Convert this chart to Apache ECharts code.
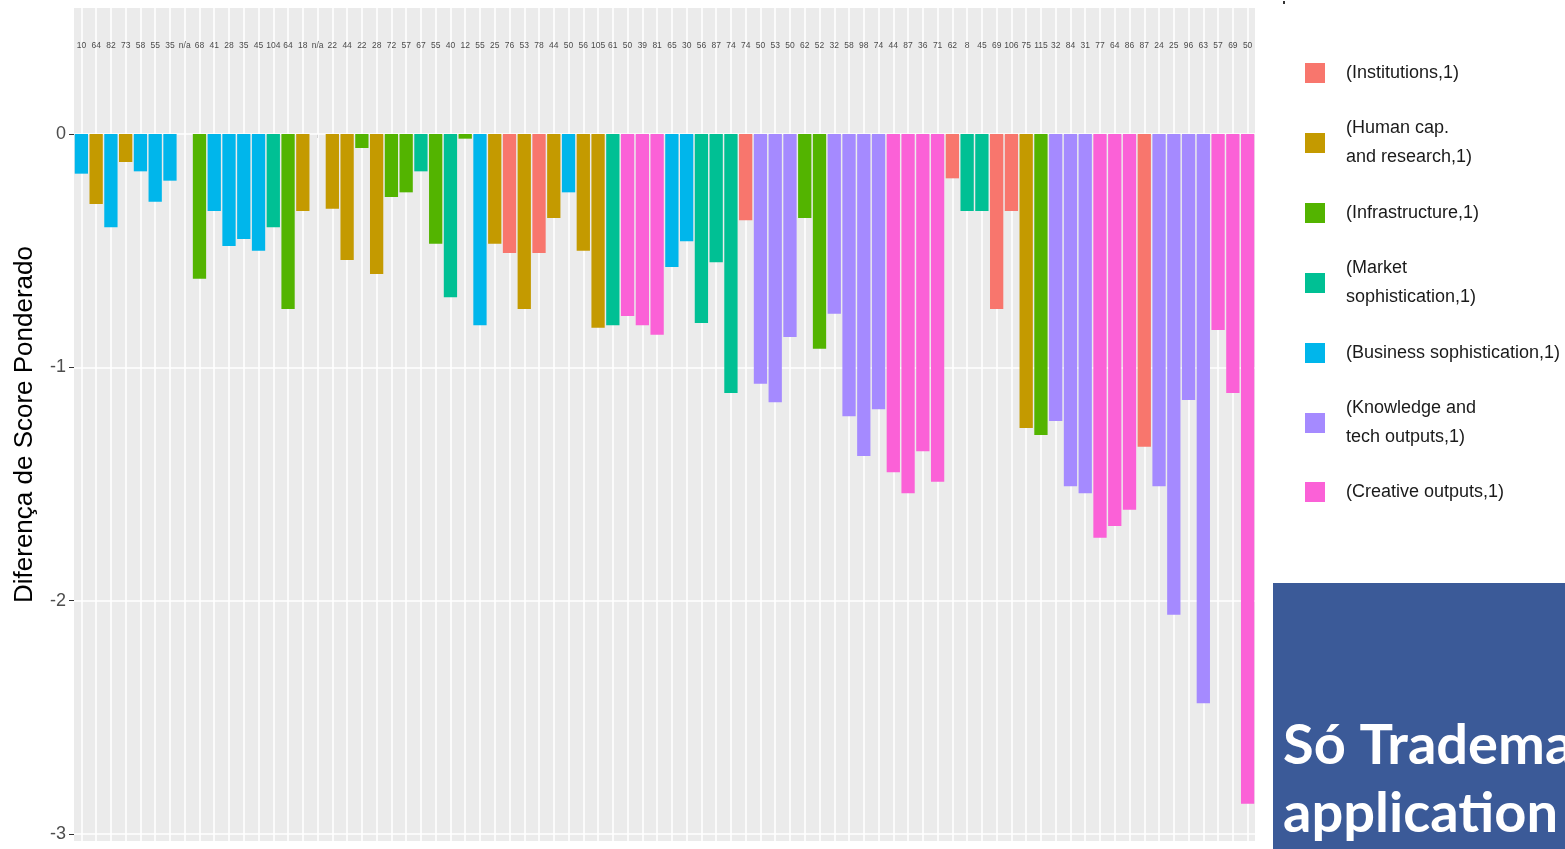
<!DOCTYPE html>
<html>
<head>
<meta charset="utf-8">
<script src="https://cdn.jsdelivr.net/npm/echarts@6/dist/echarts.min.js"></script>
<style>
html,body{margin:0;padding:0;background:#fff;}
#chart{width:1565px;height:849px;}
</style>
</head>
<body>
<div id="chart"></div>
<script>
// ---- data ----
var topLabels = ["10","64","82","73","58","55","35","n/a","68","41","28","35","45","104","64","18","n/a","22","44","22",
  "28","72","57","67","55","40","12","55","25","76","53","78","44","50","56","105","61","50","39","81",
  "65","30","56","87","74","74","50","53","50","62","52","32","58","98","74","44","87","36","71","62",
  "8","45","69","106","75","115","32","84","31","77","64","86","87","24","25","96","63","57","69","50"];

var values = [-0.17,-0.30,-0.40,-0.12,-0.16,-0.29,-0.20,null,-0.62,-0.33,-0.48,-0.45,-0.50,-0.40,-0.75,-0.33,null,-0.32,-0.54,-0.06,
  -0.60,-0.27,-0.25,-0.16,-0.47,-0.70,-0.02,-0.82,-0.47,-0.51,-0.75,-0.51,-0.36,-0.25,-0.50,-0.83,-0.82,-0.78,-0.82,-0.86,
  -0.57,-0.46,-0.81,-0.55,-1.11,-0.37,-1.07,-1.15,-0.87,-0.36,-0.92,-0.77,-1.21,-1.38,-1.18,-1.45,-1.54,-1.36,-1.49,-0.19,
  -0.33,-0.33,-0.75,-0.33,-1.26,-1.29,-1.23,-1.51,-1.54,-1.73,-1.68,-1.61,-1.34,-1.51,-2.06,-1.14,-2.44,-0.84,-1.11,-2.87];

// group index per bar: 0 Institutions, 1 Human cap., 2 Infrastructure, 3 Market, 4 Business, 5 Knowledge, 6 Creative
var groups = [4,1,4,1,4,4,4,null,2,4,4,4,4,3,2,1,null,1,1,2,
  1,2,2,3,2,3,2,4,1,0,1,0,1,4,1,1,3,6,6,6,
  4,4,3,3,3,0,5,5,5,2,2,5,5,5,5,6,6,6,6,0,
  3,3,0,0,1,2,5,5,5,6,6,6,0,5,5,5,5,6,6,6];

var groupNames = ["(Institutions,1)","(Human cap.\nand research,1)","(Infrastructure,1)","(Market\nsophistication,1)",
  "(Business sophistication,1)","(Knowledge and\ntech outputs,1)","(Creative outputs,1)"];
var groupColors = ["#F8766D","#C49A00","#53B400","#00C094","#00B6EB","#A58AFF","#FB61D7"];

var yTicks = [0,-1,-2,-3];

// ---- build ----
var cats = topLabels.map(function(_,i){return String(i);});
var LABEL_Y = 0.38;

var series = groupNames.map(function(name, g){
  return {
    name: name, type: 'bar', stack: 'all', barWidth: '90%',
    itemStyle: {color: groupColors[g]}, z: 3,
    data: values.map(function(v,i){ return groups[i] === g ? v : null; })
  };
});

var vLines = cats.map(function(c){ return {xAxis: c}; });
var hLines = yTicks.map(function(v){ return {yAxis: v}; });

series.unshift({
  type: 'line', data: [], z: 1, silent: true,
  markLine: {
    silent: true, symbol: 'none', animation: false, z: 1,
    label: {show: false},
    lineStyle: {color: '#ffffff', width: 1.6, type: 'solid'},
    data: vLines.concat(hLines)
  }
});

series.push({
  type: 'scatter', symbolSize: 0, z: 4, silent: true,
  data: topLabels.map(function(t,i){ return [String(i), LABEL_Y]; }),
  label: {
    show: true, position: 'inside',
    formatter: function(p){ return topLabels[p.dataIndex]; },
    fontSize: 8.5, color: '#222', fontFamily: 'Liberation Sans, Arial, sans-serif'
  }
});

var legendTops = [73,143,213,283,353,423,492];
var legends = groupNames.map(function(name, g){
  var two = name.indexOf('\n') >= 0;
  return {
    data: [name], orient: 'vertical', left: 1305, top: legendTops[g] - (two ? 29 : 14.5),
    padding: 0, itemWidth: 20, itemHeight: 20, icon: 'rect', selectedMode: false,
    textStyle: {fontSize: 18, lineHeight: 29, color: '#1a1a1a', fontFamily: 'Liberation Sans, Arial, sans-serif', padding: [0,0,0,16]}
  };
});

var chart = echarts.init(document.getElementById('chart'), null, {renderer: 'canvas'});
chart.setOption({
  animation: false,
  backgroundColor: '#ffffff',
  grid: {left: 74, right: 310, top: 8, bottom: 8, show: true, backgroundColor: '#EBEBEB', borderWidth: 0},
  legend: legends,
  xAxis: {
    type: 'category', data: cats,
    axisLine: {show: false},
    axisTick: {show: true, alignWithLabel: true, length: 4, lineStyle: {color: '#333', width: 1}},
    axisLabel: {show: false},
    splitLine: {show: false}
  },
  yAxis: {
    type: 'value', min: -3.03, max: 0.54,
    name: 'Diferença de Score Ponderado', nameLocation: 'middle', nameGap: 36, nameRotate: 90,
    nameTextStyle: {fontSize: 26, color: '#000', fontFamily: 'Liberation Sans, Arial, sans-serif'},
    axisLine: {show: false},
    axisTick: {show: true, length: 5, customValues: yTicks, lineStyle: {color: '#333'}},
    axisLabel: {customValues: yTicks, fontSize: 18, color: '#4D4D4D', margin: 8, fontFamily: 'Liberation Sans, Arial, sans-serif'},
    splitLine: {show: false}
  },
  graphic: [
    {type: 'rect', left: 1273, top: 583, shape: {width: 292, height: 266}, style: {fill: '#3B5A98'}, z: 10},
    {type: 'text', left: 1283, top: 718, style: {text: 'Só Trademark', fill: '#fff', font: 'bold 56px Lato, "Open Sans", sans-serif'}, z: 11},
    {type: 'text', left: 1283, top: 786, style: {text: 'application', fill: '#fff', font: 'bold 56px Lato, "Open Sans", sans-serif'}, z: 11},
    {type: 'rect', left: 1283, top: 1, shape: {width: 2, height: 3}, style: {fill: '#333'}, z: 11}
  ],
  series: series
});
</script>
</body>
</html>
